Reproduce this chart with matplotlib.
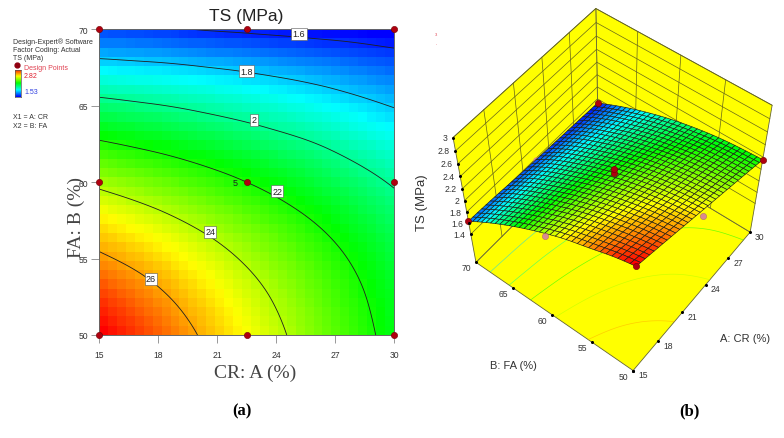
import numpy as np
import matplotlib
matplotlib.use("Agg")
import matplotlib.pyplot as plt
import matplotlib.tri as mtri
from matplotlib.colors import LinearSegmentedColormap
from mpl_toolkits.mplot3d import proj3d
from mpl_toolkits.mplot3d.art3d import Poly3DCollection

plt.rcParams["font.family"] = ["Liberation Sans", "DejaVu Sans"]

# values
cr_values = [15, 17.5, 20, 22.5, 25, 27.5, 30]
fa_values = [50, 52.5, 55, 57.5, 60, 62.5, 65, 67.5, 70]
ts_values = [
    [2.818, 2.710, 2.600, 2.490, 2.380, 2.270, 2.158],
    [2.733, 2.640, 2.545, 2.447, 2.347, 2.245, 2.140],
    [2.620, 2.550, 2.470, 2.385, 2.297, 2.205, 2.109],
    [2.511, 2.446, 2.377, 2.304, 2.226, 2.144, 2.057],
    [2.373, 2.319, 2.262, 2.200, 2.134, 2.063, 1.988],
    [2.216, 2.174, 2.128, 2.078, 2.025, 1.964, 1.900],
    [2.041, 2.011, 1.977, 1.938, 1.894, 1.846, 1.794],
    [1.848, 1.830, 1.807, 1.779, 1.747, 1.711, 1.670],
    [1.637, 1.623, 1.597, 1.578, 1.560, 1.545, 1.528],
]
contour_levels = [1.6, 1.8, 2.0, 2.2, 2.4, 2.6]
label_text = ["1.6", "1.8", "2", "22", "24", "26"]
label_cr = [25.16, 22.5, 22.87, 24.05, 20.64, 17.63]
label_fa = [69.7, 67.27, 64.07, 59.4, 56.74, 53.67]
design_cr = [15, 22.5, 30, 15, 22.5, 30, 15, 22.5, 30]
design_fa = [50, 50, 50, 60, 60, 60, 70, 70, 70]
cr_ticks = [15, 18, 21, 24, 27, 30]
fa_ticks = [50, 55, 60, 65, 70]
ts_ticks = [1.4, 1.6, 1.8, 2, 2.2, 2.4, 2.6, 2.8, 3]
point_cr = [15, 15, 30, 30, 22.5, 22.5]
point_fa = [50, 70, 50, 70, 60, 60]
point_ts = [2.82, 1.64, 2.16, 1.53, 2.20, 2.26]
under_cr = [22.5, 15]
under_fa = [50, 60]
under_ts = [2.38, 2.33]
hidden_cr = [22.5]
hidden_fa = [70]
hidden_ts = [1.57]

W, H = 784, 439
fig = plt.figure(figsize=(W / 100, H / 100), dpi=100)
cmap = LinearSegmentedColormap.from_list("de", ["#0000ff", "#00ffff", "#00ff00", "#ffff00", "#ff0000"])
VMIN, VMAX = 1.53, 2.82

gx, gy = np.meshgrid(cr_values, fa_values)
tri = mtri.Triangulation(gx.ravel(), gy.ravel())
smooth = mtri.CubicTriInterpolator(tri, np.array(ts_values).ravel(), kind="min_E")


def sample(nx, ny):
    xs = np.linspace(15 + 1e-6, 30 - 1e-6, nx)
    ys = np.linspace(50 + 1e-6, 70 - 1e-6, ny)
    xx, yy = np.meshgrid(xs, ys)
    return xx, yy, np.asarray(smooth(xx, yy))


# (a) contour plot
ax = fig.add_axes([99.3 / W, (H - 336) / H, 294.7 / W, 305.7 / H])
xx, yy, zz = sample(33, 33)
ax.imshow(zz, extent=(15, 30, 50, 70), origin="lower", aspect="auto", cmap=cmap, vmin=VMIN, vmax=VMAX,
          interpolation="nearest")
xx, yy, zz = sample(200, 200)
ax.contour(xx, yy, zz, levels=contour_levels, colors="#202020", linewidths=0.6)
for t, x, y in zip(label_text, label_cr, label_fa):
    ax.text(x, y, t, fontsize=6.5, ha="center", va="center", color="#222222",
            bbox=dict(boxstyle="square,pad=0.15", fc="white", ec="#555555", lw=0.4))
ax.plot(design_cr, design_fa, "o", color="#b00010", mec="#700000", mew=0.4, ms=4.5, clip_on=False, zorder=5)
ax.text(21.9, 60, "5", fontsize=6.5, ha="center", va="center", color="#222222")
ax.set_xlim(15, 30)
ax.set_ylim(50, 70)
ax.set_xticks(cr_ticks)
ax.set_yticks(fa_ticks)
ax.tick_params(length=5.5, width=0.6, color="#888888", labelsize=6.2, labelcolor="#333333")
ax.tick_params(axis="x", pad=5)
ax.tick_params(axis="y", pad=2.5)
for s in ax.spines.values():
    s.set_color("#666666")
    s.set_linewidth(0.7)

fig.text(246 / W, 1 - 17 / H, "TS (MPa)", fontsize=12.5, ha="center", va="center", color="#222222")
fig.text(255 / W, 1 - 373 / H, "CR: A (%)", fontsize=14, family="Liberation Serif", ha="center", va="center", color="#444444")
fig.text(76 / W, 1 - 217 / H, "FA: B (%)", fontsize=14, family="Liberation Serif", rotation=90, ha="center", va="center", color="#444444")
fig.text(242 / W, 1 - 411 / H, "(a)", fontsize=12, family="Liberation Serif", weight="bold", ha="center", va="center")
fig.text(689 / W, 1 - 411 / H, "(b)", fontsize=12, family="Liberation Serif", weight="bold", ha="center", va="center")

# legend block
for t, y in zip(["Design-Expert\u00ae Software", "Factor Coding: Actual", "TS (MPa)"], [42, 51, 59]):
    fig.text(13.5 / W, 1 - y / H, t, fontsize=5, va="center", color="#333333")
fig.text(24 / W, 1 - 68 / H, "Design Points", fontsize=5, va="center", color="#e04050")
fig.text(24 / W, 1 - 76 / H, "2.82", fontsize=5, va="center", color="#e02030")
fig.text(24 / W, 1 - 93 / H, "1.53", fontsize=5, va="center", color="#3040e0")
fig.text(13.5 / W, 1 - 118 / H, "X1 = A: CR", fontsize=5, va="center", color="#333333")
fig.text(13.5 / W, 1 - 127 / H, "X2 = B: FA", fontsize=5, va="center", color="#333333")
cax = fig.add_axes([15 / W, 1 - 98 / H, 6 / W, 27 / H])
cax.imshow(np.linspace(VMAX, VMIN, 64).reshape(-1, 1), aspect="auto", cmap=cmap, vmin=VMIN, vmax=VMAX)
cax.set_xticks([])
cax.set_yticks([])
for s in cax.spines.values():
    s.set_color("#555555")
    s.set_linewidth(0.5)
dax = fig.add_axes([14 / W, 1 - 69 / H, 6 / W, 6 / H])
dax.plot([0], [0], "o", color="#900010", ms=3.5)
dax.set_axis_off()
fig.text(436 / W, 1 - 35 / H, "3", fontsize=3, color="#e04050", ha="center", va="center")
fig.text(436 / W, 1 - 45 / H, "'", fontsize=3, color="#e04050", ha="center", va="center")

# (b) response surface, camera tuned to the corners in the picture
zf = 0.8565
ax3 = fig.add_axes([0.4, 0, 0.6, 1], projection="3d")
ax3.set_xlim(15, 30, view_margin=0)
ax3.set_ylim(50, 70, view_margin=0)
ax3.set_zlim(zf, 3, view_margin=0)
ax3.view_init(elev=53.382, azim=-142.360, roll=0)
ax3.set_proj_type("persp", focal_length=0.5828)
ax3.set_box_aspect((1, 0.9944, 0.9947), zoom=1)
vl = ax3.viewLim
scale, tx, ty = 1910.23, 614.39, 249.10
ax3.set_position([(tx + scale * vl.x0) / W, (ty + scale * vl.y0) / H, scale * vl.width / W, scale * vl.height / H])
ax3.set_axis_off()
ax3.computed_zorder = False

yellow = "#ffff00"
line = "#66661a"
walls = [
    [(15, 70, zf), (30, 70, zf), (30, 70, 3), (15, 70, 3)],
    [(30, 50, zf), (30, 70, zf), (30, 70, 3), (30, 50, 3)],
    [(15, 50, zf), (30, 50, zf), (30, 70, zf), (15, 70, zf)],
]
ax3.add_collection3d(Poly3DCollection(walls, facecolors=yellow, edgecolors="#666633", linewidths=0.6, zorder=1))
xx, yy, zz = sample(200, 200)
ax3.contour(xx, yy, zz, levels=contour_levels, cmap=cmap, vmin=VMIN, vmax=VMAX, zdir="z", offset=zf,
            linewidths=0.5, alpha=0.6, zorder=2)
for z in ts_ticks:
    ax3.plot([15, 30, 30], [70, 70, 50], [z, z, z], color=line, lw=0.5, zorder=3)
for x in cr_ticks[1:-1]:
    ax3.plot([x, x], [70, 70], [zf, 3], color=line, lw=0.5, zorder=3)
for y in fa_ticks[1:-1]:
    ax3.plot([30, 30], [y, y], [zf, 3], color=line, lw=0.5, zorder=3)

ax3.plot(hidden_cr, hidden_fa, hidden_ts, "o", color="#d98a90", ms=3.5, ls="none", zorder=4)
xx, yy, zz = sample(33, 33)
ax3.plot_surface(xx, yy, zz, facecolors=cmap((zz - VMIN) / (VMAX - VMIN)), rstride=1, cstride=1,
                 edgecolor="#1a1a1a", linewidth=0.45, shade=False, zorder=5)
ax3.plot(under_cr, under_fa, under_ts, "o", color="#d98a90", mec="#a06060", mew=0.3, ms=4.5, ls="none", zorder=6)
ax3.plot(point_cr, point_fa, point_ts, "o", color="#b00010", mec="#700000", mew=0.4, ms=4.5, ls="none", zorder=7)

# axis ticks and labels
ax3.plot([15] * len(fa_ticks), fa_ticks, [zf] * len(fa_ticks), "o", color="k", ms=1.2, ls="none", zorder=8)
ax3.plot(cr_ticks, [50] * len(cr_ticks), [zf] * len(cr_ticks), "o", color="k", ms=1.2, ls="none", zorder=8)
ax3.plot([15] * len(ts_ticks), [70] * len(ts_ticks), ts_ticks, "o", color="k", ms=1.2, ls="none", zorder=8)

M = ax3.get_proj()


def tick_label(text, x, y, z, dx, dy, ha="center"):
    px, py, _ = proj3d.proj_transform(x, y, z, M)
    ax3.annotate(text, (px, py), xytext=(dx, dy), textcoords="offset points", fontsize=6.2, ha=ha, va="center",
                 color="#333333", annotation_clip=False, zorder=9)


for x in cr_ticks:
    tick_label(str(x), x, 50, zf, 7, -3)
for y in fa_ticks:
    tick_label(str(y), 15, y, zf, -7, -4)
for z in ts_ticks:
    tick_label(f"{z:g}", 15, 70, z, -4, 0, ha="right")

for art in ax3.get_children():
    art.set_clip_on(False)

fig.text(745 / W, 1 - 339 / H, "A: CR (%)", fontsize=8, ha="center", va="center", color="#333333")
fig.text(513 / W, 1 - 366 / H, "B: FA (%)", fontsize=8, ha="center", va="center", color="#333333")
fig.text(422 / W, 1 - 203 / H, "TS (MPa)", fontsize=9.5, rotation=90, ha="center", va="center", color="#333333")

fig.savefig("out.png", dpi=100)
